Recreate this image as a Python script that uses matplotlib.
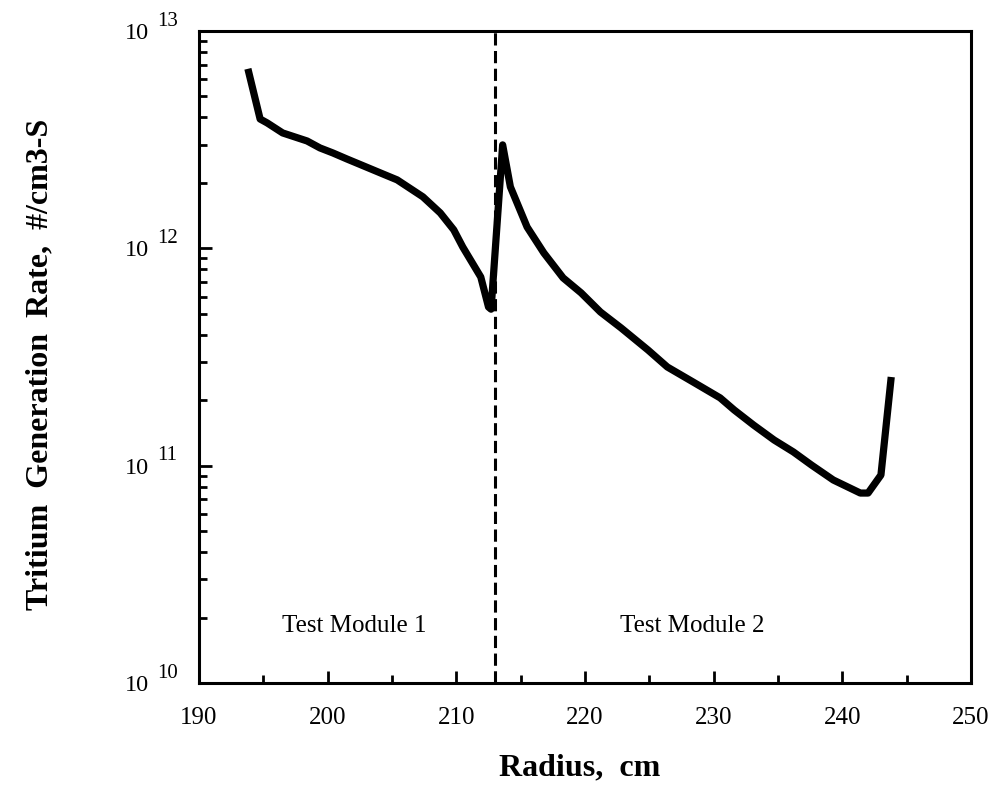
import matplotlib
matplotlib.use("Agg")
import matplotlib.pyplot as plt
from matplotlib.ticker import FixedLocator, LogLocator, NullFormatter, MultipleLocator

plt.rcParams['font.family'] = ['Liberation Serif', 'DejaVu Serif']

# Data (log10 of rate)
radius = [193.8, 194.75, 195.3, 196.5, 198.4, 199.4, 200.4, 201.5, 202.8, 204.3,
          205.4, 207.4, 208.75, 209.8, 210.5, 211.9, 212.5, 212.7, 213.6, 214.2, 215.5,
          216.8, 218.3, 219.7, 221.2, 222.8, 224.9, 226.4, 228.4, 230.5, 231.6,
          233.1, 234.7, 236.2, 237.6, 239.3, 241.4, 242.0, 243.0, 243.8]
log_rate = [12.826, 12.595, 12.577, 12.531, 12.494, 12.462, 12.439, 12.411, 12.379, 12.342,
            12.315, 12.237, 12.163, 12.085, 12.006, 11.868, 11.730, 11.72, 12.476, 12.283, 12.098,
            11.979, 11.864, 11.795, 11.707, 11.634, 11.532, 11.454, 11.385, 11.312, 11.256,
            11.187, 11.118, 11.063, 11.003, 10.934, 10.874, 10.874, 10.957, 11.408]
rate = [10 ** v for v in log_rate]

boundary = 213.0
module_labels = ["Test Module 1", "Test Module 2"]
module_x = [202.1, 228.3]
module_y = 1.83e10

xticks = [190, 200, 210, 220, 230, 240, 250]
yticks = [1e10, 1e11, 1e12, 1e13]
ytick_base = ["10", "10", "10", "10"]
ytick_exp = ["10", "11", "12", "13"]

fig = plt.figure(figsize=(9.98, 7.9), dpi=100)
ax = fig.add_axes([199/998, 107/790, 772/998, 652/790])

ax.plot(radius, rate, color='black', lw=5.2, solid_joinstyle='round', solid_capstyle='butt')
ax.axvline(boundary, color='black', lw=2.2, ls=(0, (4, 1.8)))

ax.set_yscale('log')
ax.set_xlim(190, 250)
ax.set_ylim(1e10, 1e13)

ax.xaxis.set_major_locator(FixedLocator(xticks))
ax.xaxis.set_minor_locator(MultipleLocator(5))
ax.set_yticks(yticks)
ax.set_yticklabels(ytick_base)
ax.yaxis.set_minor_locator(LogLocator(base=10, subs=range(2, 10)))
ax.yaxis.set_minor_formatter(NullFormatter())

ax.tick_params(axis='both', which='both', direction='in', top=False, right=False, width=2)
ax.tick_params(axis='both', which='major', length=9)
ax.tick_params(axis='both', which='minor', length=6)
ax.tick_params(axis='x', which='major', labelsize=18, pad=17)
ax.tick_params(axis='y', which='major', labelsize=17.5, pad=36)

# exponents of the y tick labels
for val, e in zip(yticks, ytick_exp):
    ax.annotate(e, xy=(0, val), xycoords=('axes fraction', 'data'),
                xytext=(-42 * 0.72, 10 * 0.72), textcoords='offset points',
                ha='left', va='center', fontsize=15)

for s in ax.spines.values():
    s.set_linewidth(2.2)

for lbl, xx in zip(module_labels, module_x):
    ax.text(xx, module_y, lbl, ha='center', va='center', fontsize=18)

fig.text(580/998, 1 - 768/790, "Radius,  cm", fontsize=23, fontweight='bold',
         ha='center', va='center')
fig.text(40/998, 1 - 364/790, "Tritium  Generation  Rate,  #/cm3-S", fontsize=23,
         fontweight='bold', rotation=90, ha='center', va='center')

fig.savefig("out.png", dpi=100)
